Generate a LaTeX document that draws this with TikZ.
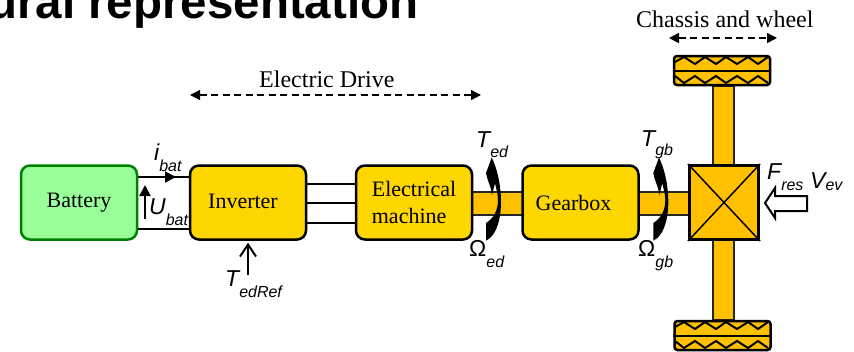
\documentclass[tikz,border=0pt]{standalone}
\usepackage{fontspec}
\setmainfont{Liberation Serif}
\newfontfamily\labelfont{Liberation Sans}
\usetikzlibrary{arrows.meta}
\definecolor{batfill}{HTML}{99FF99}
\definecolor{batline}{HTML}{008000}
\definecolor{boxfill}{HTML}{FFD700}
\definecolor{shaftfill}{HTML}{FFC000}
\newcommand{\symlabel}[3]{{\labelfont\itshape\fontsize{23}{23}\selectfont #1\raisebox{#3}{\fontsize{16}{16}\selectfont #2}}}
\newcommand{\omegalabel}[1]{{\labelfont\fontsize{23}{23}\selectfont \char"03A9\raisebox{-11pt}{\itshape\fontsize{16}{16}\selectfont #1}}}
\tikzset{
    blockbox/.style={draw=black, fill=boxfill, line width=2.5pt, rounded corners=9pt, minimum width=116pt, minimum height=74pt, inner sep=0pt, align=left, font=\fontsize{22}{27}\selectfont},
    wheelbox/.style={draw=black, fill=shaftfill, line width=2.5pt, rounded corners=3pt, minimum width=96pt, minimum height=29pt, inner sep=0pt},
    shaft/.style={draw=black!85, fill=shaftfill, line width=2pt},
    wire/.style={draw=black, line width=2pt},
    spanarrow/.style={draw=black, line width=1.5pt, dash pattern=on 7pt off 4.5pt, {Triangle[length=10pt,width=10pt]}-{Triangle[length=10pt,width=10pt]}},
    symtext/.style={anchor=base west, inner sep=0pt},
    spantext/.style={anchor=base west, inner sep=0pt, font=\fontsize{24}{24}\selectfont},
}
\begin{document}
\begin{tikzpicture}[x=1pt,y=-1pt]
    \clip (0,0) rectangle (854,351);
    \useasboundingbox (0,0) rectangle (854,351);
    \node (title) at (-12,18) [symtext] {\labelfont\bfseries\fontsize{47.5}{47.5}\selectfont ural representation};

    % shafts go behind the blocks
    \draw[shaft] (712.5,86) rectangle (733.5,320);
    \draw[shaft] (470,191.5) rectangle (690,214.5);

    \node (battery) at (79,202.5) [blockbox, fill=batfill, draw=batline] {Battery};
    \node (inverter) at (248,202.5) [blockbox] {\raisebox{3pt}{Inverter}\hspace{10pt}};
    \node (machine) at (414,202.5) [blockbox] {Electrical\hspace{4pt}\\machine};
    \node (gearbox) at (580.5,202.5) [blockbox] {Gearbox\hspace{14pt}};
    \node (axle) at (724,202.5) [draw=black, fill=shaftfill, line width=3pt, minimum width=69pt, minimum height=74pt, inner sep=0pt] {};
    \draw[line width=1.5pt] (axle.north west) -- (axle.south east);
    \draw[line width=1.5pt] (axle.north east) -- (axle.south west);

    \node (wheeltop) at (722,70.5) [wheelbox] {};
    \node (wheelbottom) at (722.5,335.5) [wheelbox] {};
    \draw[line width=2pt] (wheeltop.west) -- (wheeltop.east);
    \draw[line width=2pt] (wheelbottom.west) -- (wheelbottom.east);
    \foreach \dy in {0,265} {
        \draw[line width=2pt] (675,62+\dy)--(684,57+\dy)--(695,64+\dy)--(705,57+\dy)--(716,64+\dy)--(726,57+\dy)--(737,64+\dy)--(748,57+\dy)--(758,64+\dy)--(768,57+\dy);
        \draw[line width=2pt] (675,76+\dy)--(684,83+\dy)--(695,76+\dy)--(705,83+\dy)--(716,76+\dy)--(726,83+\dy)--(737,76+\dy)--(748,83+\dy)--(758,76+\dy)--(768,83+\dy);
    }

    \draw[wire] ([yshift=25.5pt]battery.east) -- ([yshift=25.5pt]inverter.west);
    \draw[wire] ([yshift=-26.5pt]battery.east) -- ([yshift=-26.5pt]inverter.west);
    \draw[wire] ([yshift=19pt]inverter.east) -- ([yshift=19pt]machine.west);
    \draw[wire] (inverter.east) -- (machine.west);
    \draw[wire] ([yshift=-20pt]inverter.east) -- ([yshift=-20pt]machine.west);

    \coordinate (ibatstart) at (152,177);
    \coordinate (ibatend) at (176,177);
    \draw[wire, -{Triangle[length=11pt,width=11pt]}] (ibatstart) -- (ibatend);
    \coordinate (ubatstart) at (145,219);
    \coordinate (ubatend) at (145,185);
    \draw[wire, -{Triangle[length=11pt,width=11pt]}] (ubatstart) -- (ubatend);
    \coordinate (trefstart) at (248,275);
    \draw[wire, shorten >=2pt, -{Straight Barb[length=12pt,width=16pt]}] (trefstart) -- (inverter.south);

    % torque arrows
    \foreach \dx in {0,167.3} {
        \fill[black, shift={(\dx,0)}] (486,240.7) -- (486,223) .. controls (494,218) and (498,210) .. (498,200)
            .. controls (498,194) and (496,188) .. (495,183.3) -- (492,195) .. controls (491,186) and (487,180) .. (486,173)
            -- (491.7,157.5) .. controls (497,168) and (501,185) .. (501,202) .. controls (501,218) and (497,232) .. (490,238) -- cycle;
    }

    % hollow arrow
    \draw[fill=white, line width=2pt] (765,203) -- (775,188) -- (775,196) -- (807,196) -- (807,211) -- (775,211) -- (775,218) -- cycle;

    \node (ibat) at (154,160) [symtext] {\symlabel{i}{bat}{-11pt}};
    \node (ubat) at (149,214) [symtext] {\symlabel{U}{bat}{-11pt}};
    \node (tref) at (225,286) [symtext] {\symlabel{T}{edRef}{-11pt}};
    \node (ted) at (476,147) [symtext] {\symlabel{T}{ed}{-10pt}};
    \node (tgb) at (641,146) [symtext] {\symlabel{T}{gb}{-9pt}};
    \node (wed) at (469,256) [symtext] {\omegalabel{ed}};
    \node (wgb) at (638,256) [symtext] {\omegalabel{gb}};
    \node (fres) at (767,179) [symtext] {\symlabel{F}{res}{-11pt}};
    \node (vev) at (810,188) [symtext] {\symlabel{V}{ev}{-2pt}};

    \node (drivetext) at (259,87) [spantext] {Electric Drive};
    \node (chassistext) at (636,27) [spantext] {Chassis and wheel};
    \coordinate (drivel) at (190,95);
    \coordinate (driver) at (481,95);
    \coordinate (chassisl) at (669,38);
    \coordinate (chassisr) at (777,38);
    \draw[spanarrow] (drivel) -- (driver);
    \draw[spanarrow] (chassisl) -- (chassisr);
\end{tikzpicture}
\end{document}
